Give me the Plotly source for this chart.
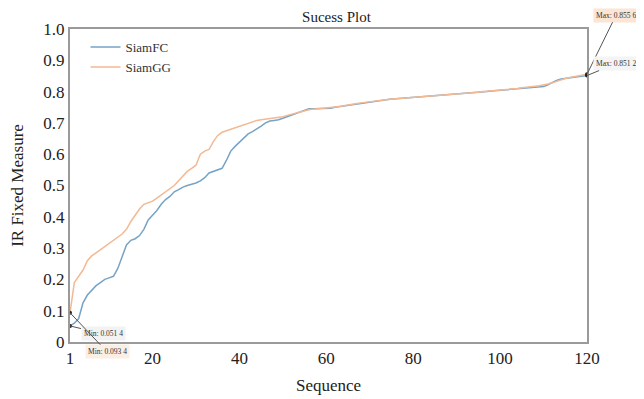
import plotly.graph_objects as go

sequence = list(range(1, 121))

siamfc = [
    0.0514, 0.060, 0.075, 0.125, 0.150, 0.165, 0.180, 0.190, 0.200, 0.205,
    0.210, 0.235, 0.270, 0.310, 0.325, 0.330, 0.340, 0.360, 0.390, 0.405,
    0.420, 0.440, 0.455, 0.465, 0.480, 0.487, 0.495, 0.500, 0.503, 0.508,
    0.515, 0.525, 0.540, 0.545, 0.550, 0.555, 0.580, 0.610, 0.625, 0.638,
    0.650, 0.665, 0.672, 0.680, 0.690, 0.700, 0.706, 0.708, 0.710, 0.715,
    0.720, 0.725, 0.730, 0.735, 0.740, 0.745, 0.745, 0.745, 0.745, 0.746,
    0.747, 0.750, 0.752, 0.755, 0.758, 0.760, 0.762, 0.764, 0.766, 0.768,
    0.770, 0.772, 0.774, 0.775, 0.776, 0.777, 0.778, 0.779, 0.780, 0.781,
    0.782, 0.783, 0.785, 0.786, 0.787, 0.788, 0.789, 0.790, 0.791, 0.792,
    0.793, 0.794, 0.795, 0.796, 0.797, 0.799, 0.800, 0.802, 0.803, 0.804,
    0.805, 0.806, 0.807, 0.808, 0.809, 0.810, 0.811, 0.812, 0.813, 0.816,
    0.822, 0.830, 0.836, 0.840, 0.842, 0.844, 0.846, 0.848, 0.850, 0.8512,
]

siamgg = [
    0.0934, 0.190, 0.210, 0.230, 0.260, 0.275, 0.285, 0.295, 0.305, 0.315,
    0.325, 0.335, 0.345, 0.360, 0.385, 0.405, 0.425, 0.440, 0.445, 0.450,
    0.460, 0.470, 0.480, 0.490, 0.500, 0.515, 0.530, 0.545, 0.555, 0.565,
    0.600, 0.610, 0.615, 0.640, 0.660, 0.670, 0.675, 0.680, 0.685, 0.690,
    0.695, 0.700, 0.705, 0.708, 0.710, 0.712, 0.713, 0.715, 0.718, 0.720,
    0.724, 0.728, 0.732, 0.736, 0.740, 0.742, 0.744, 0.745, 0.746, 0.747,
    0.748, 0.750, 0.752, 0.755, 0.758, 0.760, 0.762, 0.764, 0.766, 0.768,
    0.770, 0.772, 0.774, 0.775, 0.776, 0.777, 0.778, 0.779, 0.780, 0.781,
    0.782, 0.783, 0.785, 0.786, 0.787, 0.788, 0.789, 0.790, 0.791, 0.792,
    0.794, 0.795, 0.796, 0.797, 0.798, 0.800, 0.801, 0.803, 0.804, 0.805,
    0.806, 0.807, 0.808, 0.810, 0.812, 0.813, 0.815, 0.817, 0.819, 0.821,
    0.824, 0.828, 0.833, 0.838, 0.842, 0.845, 0.848, 0.851, 0.853, 0.8556,
]

x_ticks = [1, 20, 40, 60, 80, 100, 120]
y_ticks = [0, 0.1, 0.2, 0.3, 0.4, 0.5, 0.6, 0.7, 0.8, 0.9, 1.0]
y_tick_labels = ["0", "0.1", "0.2", "0.3", "0.4", "0.5", "0.6", "0.7", "0.8", "0.9", "1.0"]

blue = "#76a3c6"
orange = "#f2b994"
serif = "Liberation Serif, Times New Roman, serif"

fig = go.Figure()
fig.add_trace(go.Scatter(x=sequence, y=siamfc, mode="lines", name="SiamFC",
                         line=dict(color=blue, width=1.5)))
fig.add_trace(go.Scatter(x=sequence, y=siamgg, mode="lines", name="SiamGG",
                         line=dict(color=orange, width=1.5)))

# extreme markers
ext_x = [sequence[0], sequence[0], sequence[-1], sequence[-1]]
ext_y = [siamfc[0], siamgg[0], siamfc[-1], siamgg[-1]]
fig.add_trace(go.Scatter(x=ext_x, y=ext_y, mode="markers", showlegend=False,
                         marker=dict(color="#222222", size=4), cliponaxis=False))

ann_font = dict(family=serif, size=7.5, color="#333333")
fig.add_annotation(x=sequence[-1], y=siamgg[-1], text="Max: 0.855 6", ax=29, ay=-59,
                   showarrow=True, arrowhead=0, arrowwidth=1, arrowcolor="#555555",
                   bgcolor="#fbe6d6", font=ann_font, borderpad=2)
fig.add_annotation(x=sequence[-1], y=siamfc[-1], text="Max: 0.851 2", ax=29, ay=-12,
                   showarrow=True, arrowhead=0, arrowwidth=1, arrowcolor="#555555",
                   bgcolor="#f4f4f4", font=ann_font, borderpad=2)
fig.add_annotation(x=sequence[0], y=siamfc[0], text="Min: 0.051 4", ax=33, ay=8,
                   showarrow=True, arrowhead=0, arrowwidth=1, arrowcolor="#555555",
                   bgcolor="#f2f2f2", font=ann_font, borderpad=2)
fig.add_annotation(x=sequence[0], y=siamgg[0], text="Min: 0.093 4", ax=37, ay=39,
                   showarrow=True, arrowhead=0, arrowwidth=1, arrowcolor="#555555",
                   bgcolor="#fbeee4", font=ann_font, borderpad=2)

fig.update_layout(
    width=644, height=399,
    margin=dict(l=62, r=65, t=21, b=65),
    paper_bgcolor="white", plot_bgcolor="white",
    font=dict(family=serif, size=17, color="#222222"),
    title=dict(text="Sucess Plot", x=0.51, xanchor="center", y=0.99, yanchor="top",
               pad=dict(t=0, b=0), font=dict(family=serif, size=15, color="#222222")),
    legend=dict(x=0.03, y=0.99, xanchor="left", yanchor="top", bgcolor="rgba(0,0,0,0)",
                font=dict(family=serif, size=13, color="#333333"),
                tracegroupgap=0, itemwidth=30),
    showlegend=True,
)
fig.update_xaxes(range=[1, 120], tickvals=x_ticks, ticks="", showgrid=False, zeroline=False,
                 showline=True, linecolor="#9a9a9a", linewidth=2, mirror=True, automargin=False,
                 title=dict(text="Sequence", font=dict(family=serif, size=17), standoff=12))
fig.update_yaxes(range=[0, 1.0], tickvals=y_ticks, ticktext=y_tick_labels, ticks="",
                 showgrid=False, zeroline=False, automargin=False,
                 showline=True, linecolor="#9a9a9a", linewidth=2, mirror=True,
                 title=dict(text="IR Fixed Measure", font=dict(family=serif, size=17), standoff=15))

fig.write_html("out.html")
